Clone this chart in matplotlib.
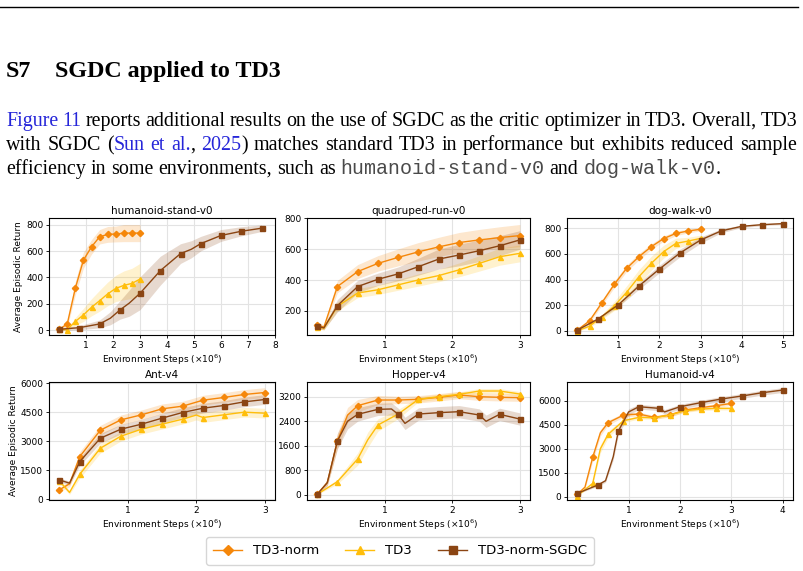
import numpy as np
import matplotlib
matplotlib.use("Agg")
import matplotlib.pyplot as plt
from matplotlib.lines import Line2D

# colours of the three methods
c_norm = '#F5870A'
c_td3 = '#FFBE0B'
c_sgdc = '#8B4513'

# ---------------- data (x in millions of env steps) ----------------
# humanoid-stand-v0
hs_x_norm = [0, 0.3, 0.6, 0.9, 1.2, 1.5, 1.8, 2.1, 2.4, 2.7, 3.0]
hs_norm = [5, 45, 318, 532, 633, 710, 728, 731, 738, 738, 738]
hs_norm_sd = [10, 25, 50, 60, 55, 55, 60, 60, 65, 65, 65]
hs_x_td3 = [0, 0.3, 0.6, 0.9, 1.2, 1.5, 1.8, 2.1, 2.4, 2.7, 3.0]
hs_td3 = [5, 3, 65, 115, 173, 223, 275, 317, 340, 355, 388]
hs_td3_sd = [5, 10, 30, 50, 65, 80, 90, 100, 110, 115, 120]
hs_x_sgdc = [0, 0.75, 1.5, 1.9, 2.25, 2.6, 3.0, 3.75, 4.5, 4.9, 5.25, 6.0, 6.75, 7.5]
hs_sgdc = [5, 18, 46, 90, 152, 205, 280, 452, 582, 615, 658, 720, 752, 775]
hs_sgdc_sd = [10, 15, 30, 50, 70, 100, 125, 110, 75, 65, 55, 45, 35, 25]

# quadruped-run-v0
qr_x = [0, 0.1, 0.3, 0.6, 0.9, 1.2, 1.5, 1.8, 2.1, 2.4, 2.7, 3.0]
qr_norm = [108, 95, 358, 455, 508, 547, 583, 615, 643, 660, 675, 688]
qr_norm_sd = [20, 15, 40, 45, 50, 55, 60, 62, 65, 68, 70, 72]
qr_td3 = [97, 88, 230, 316, 337, 369, 401, 429, 466, 508, 551, 573]
qr_td3_sd = [15, 12, 30, 30, 30, 35, 40, 40, 45, 50, 55, 55]
qr_sgdc = [101, 90, 234, 358, 405, 440, 487, 536, 562, 590, 622, 660]
qr_sgdc_sd = [15, 12, 40, 40, 40, 45, 55, 65, 70, 70, 65, 60]

# dog-walk-v0
dw_x3 = [0, 0.3, 0.6, 0.9, 1.2, 1.5, 1.8, 2.1, 2.4, 2.7, 3.0]
dw_norm = [5, 78, 219, 362, 487, 578, 656, 719, 760, 779, 792]
dw_norm_sd = [8, 15, 20, 25, 25, 25, 22, 20, 18, 15, 12]
dw_td3 = [0, 36, 109, 193, 300, 422, 526, 617, 682, 700, 721]
dw_td3_sd = [5, 10, 20, 35, 50, 55, 55, 50, 40, 30, 25]
dw_x5 = [0, 0.5, 1.0, 1.5, 2.0, 2.5, 3.0, 3.5, 4.0, 4.5, 5.0]
dw_sgdc = [5, 91, 203, 349, 482, 607, 708, 779, 815, 828, 836]
dw_sgdc_sd = [5, 10, 15, 25, 30, 30, 25, 15, 10, 8, 8]

# Ant-v4
ant_x = [0, 0.15, 0.3, 0.6, 0.9, 1.2, 1.5, 1.8, 2.1, 2.4, 2.7, 3.0]
ant_norm = [483, 800, 2207, 3569, 4103, 4362, 4672, 4810, 5121, 5259, 5414, 5517]
ant_norm_sd = [100, 150, 250, 250, 250, 250, 250, 250, 250, 250, 250, 250]
ant_x_td3 = [0, 0.15, 0.3, 0.6, 0.9, 1.2, 1.5, 1.8, 2.0, 2.1, 2.4, 2.7, 3.0]
ant_td3 = [950, 350, 1293, 2638, 3259, 3621, 3879, 4138, 4350, 4224, 4362, 4500, 4448]
ant_td3_sd = [100, 100, 200, 250, 250, 250, 250, 250, 250, 250, 250, 250, 250]
ant_sgdc = [1000, 830, 1948, 3155, 3621, 3879, 4190, 4483, 4707, 4845, 5034, 5155]
ant_sgdc_sd = [100, 100, 200, 250, 250, 250, 250, 250, 250, 250, 250, 250]

# Hopper-v4
hop_x_norm = [0, 0.15, 0.3, 0.45, 0.6, 0.9, 1.2, 1.5, 1.8, 2.1, 2.4, 2.7, 3.0]
hop_norm = [22, 400, 1757, 2600, 2907, 3092, 3092, 3114, 3180, 3254, 3200, 3180, 3168]
hop_norm_sd = [10, 100, 250, 250, 200, 150, 120, 120, 120, 120, 120, 120, 120]
hop_x_td3 = [0, 0.3, 0.6, 0.75, 0.9, 1.2, 1.5, 1.8, 2.1, 2.4, 2.7, 3.0]
hop_td3 = [22, 434, 1171, 1800, 2278, 2636, 3114, 3200, 3276, 3385, 3385, 3287]
hop_td3_sd = [10, 80, 200, 250, 200, 150, 80, 80, 80, 80, 80, 80]
hop_x_sgdc = [0, 0.15, 0.3, 0.45, 0.6, 0.9, 1.1, 1.2, 1.3, 1.5, 1.8, 2.1, 2.4, 2.5, 2.7, 3.0]
hop_sgdc = [22, 400, 1757, 2400, 2625, 2788, 2800, 2625, 2330, 2636, 2680, 2712, 2603, 2400, 2625, 2473]
hop_sgdc_sd = [10, 100, 250, 250, 220, 200, 200, 200, 200, 200, 200, 200, 200, 200, 200, 200]

# Humanoid-v4
hum_x_norm = [0, 0.15, 0.3, 0.45, 0.6, 0.9, 1.2, 1.5, 1.8, 2.1, 2.4, 2.7, 3.0]
hum_norm = [146, 600, 2458, 4000, 4625, 5104, 5167, 4958, 5104, 5417, 5563, 5688, 5833]
hum_norm_sd = [30, 100, 250, 200, 150, 120, 120, 120, 120, 120, 120, 120, 120]
hum_x_td3 = [0, 0.3, 0.45, 0.6, 0.9, 1.2, 1.5, 1.8, 2.1, 2.4, 2.7, 3.0]
hum_td3 = [62, 833, 3000, 3896, 4750, 4958, 4938, 5104, 5375, 5479, 5521, 5521]
hum_td3_sd = [30, 100, 250, 200, 120, 100, 100, 100, 100, 100, 100, 100]
hum_x_sgdc = [0, 0.4, 0.55, 0.7, 0.8, 1.0, 1.2, 1.6, 1.7, 2.0, 2.4, 2.8, 3.2, 3.6, 4.0]
hum_sgdc = [208, 729, 1000, 2500, 4104, 5300, 5625, 5521, 5300, 5625, 5875, 6104, 6292, 6500, 6667]
hum_sgdc_sd = [30, 80, 100, 200, 250, 200, 150, 150, 150, 150, 150, 150, 150, 150, 150]

envs = [
    ('humanoid-stand-v0', [(hs_x_norm, hs_norm, hs_norm_sd), (hs_x_td3, hs_td3, hs_td3_sd), (hs_x_sgdc, hs_sgdc, hs_sgdc_sd)],
     [1, 2, 3, 4, 5, 6, 7, 8], [0, 200, 400, 600, 800], (-0.375, 8.0), (-38, 853)),
    ('quadruped-run-v0', [(qr_x, qr_norm, qr_norm_sd), (qr_x, qr_td3, qr_td3_sd), (qr_x, qr_sgdc, qr_sgdc_sd)],
     [1, 2, 3], [200, 400, 600, 800], (-0.15, 3.15), (44, 802)),
    ('dog-walk-v0', [(dw_x3, dw_norm, dw_norm_sd), (dw_x3, dw_td3, dw_td3_sd), (dw_x5, dw_sgdc, dw_sgdc_sd)],
     [1, 2, 3, 4, 5], [0, 200, 400, 600, 800], (-0.25, 5.25), (-33, 880)),
    ('Ant-v4', [(ant_x, ant_norm, ant_norm_sd), (ant_x_td3, ant_td3, ant_td3_sd), (ant_x, ant_sgdc, ant_sgdc_sd)],
     [1, 2, 3], [0, 1500, 3000, 4500, 6000], (-0.15, 3.15), (-40, 6060)),
    ('Hopper-v4', [(hop_x_norm, hop_norm, hop_norm_sd), (hop_x_td3, hop_td3, hop_td3_sd), (hop_x_sgdc, hop_sgdc, hop_sgdc_sd)],
     [1, 2, 3], [0, 800, 1600, 2400, 3200], (-0.15, 3.15), (-163, 3678)),
    ('Humanoid-v4', [(hum_x_norm, hum_norm, hum_norm_sd), (hum_x_td3, hum_td3, hum_td3_sd), (hum_x_sgdc, hum_sgdc, hum_sgdc_sd)],
     [1, 2, 3, 4], [0, 1500, 3000, 4500, 6000], (-0.2, 4.2), (-206, 7170)),
]

labels = ['TD3-norm', 'TD3', 'TD3-norm-SGDC']
colors = [c_norm, c_td3, c_sgdc]
markers = ['D', '^', 's']

W, H = 804, 571
fig = plt.figure(figsize=(W / 100, H / 100), dpi=100)


def fx(px):
    return px / W


def fy(py):
    return 1 - py / H


# ---------------- page text ----------------
fig.add_artist(Line2D([fx(0), fx(798)], [fy(7), fy(7)], color='black', lw=1.0))
serif = 'Liberation Serif'
mono = 'Liberation Mono'
blue = '#2626d9'
fig.text(fx(6), fy(77), 'S7', fontsize=17.3, fontweight='bold', family=serif)
fig.text(fx(55), fy(77), 'SGDC applied to TD3', fontsize=17.3, fontweight='bold', family=serif)

body_size = 14.4
K = 'black'
G = '#4a4a4a'
line1 = [[('Figure', blue, serif)], [('11', blue, serif)], 'reports', 'additional', 'results', 'on', 'the', 'use',
         'of', 'SGDC', 'as', 'the', 'critic', 'optimizer', 'in', 'TD3.', 'Overall,', 'TD3']
line2 = ['with', 'SGDC', [('(', K, serif), ('Sun', blue, serif)], [('et', blue, serif)],
         [('al.', blue, serif), (',', K, serif)], [('2025', blue, serif), (')', K, serif)],
         'matches', 'standard', 'TD3', 'in', 'performance', 'but', 'exhibits', 'reduced', 'sample']
line3 = ['efficiency', 'in', 'some', 'environments,', 'such', 'as', [('humanoid-stand-v0', G, mono)], 'and',
         [('dog-walk-v0', G, mono), ('.', K, serif)]]

renderer = fig.canvas.get_renderer()


def put_line(y, words, x0, x1, justify):
    words = [w if isinstance(w, list) else [(w, K, serif)] for w in words]
    arts = []
    widths = []
    for w in words:
        parts = []
        tot = 0
        for s, c, f in w:
            t = fig.text(0, fy(y), s, fontsize=body_size, color=c, family=f)
            wd = t.get_window_extent(renderer).width
            parts.append((t, wd))
            tot += wd
        arts.append(parts)
        widths.append(tot)
    if justify:
        gap = (x1 - x0 - sum(widths)) / (len(words) - 1)
    else:
        gap = 5.0
    x = x0
    for parts, wd in zip(arts, widths):
        xx = x
        for t, pw in parts:
            t.set_x(fx(xx))
            xx += pw
        x += wd + gap


put_line(126, line1, 6, 797, True)
put_line(150, line2, 6, 797, True)
put_line(174, line3, 6, 797, False)

# ---------------- panels ----------------
lefts = [49, 307, 567]
rights = [275, 530, 793]
tops = [218, 382]
bottoms = [335, 500]

for i, (name, series, xt, yt, xl, yl) in enumerate(envs):
    r, c = divmod(i, 3)
    ax = fig.add_axes([fx(lefts[c]), fy(bottoms[r]), fx(rights[c] - lefts[c]), (bottoms[r] - tops[r]) / H])
    for (x, m, sd), col, mk, lab in zip(series, colors, markers, labels):
        x = np.array(x, dtype=float)
        m = np.array(m, dtype=float)
        sd = np.array(sd, dtype=float)
        ax.fill_between(x, m - sd, m + sd, color=col, alpha=0.2, lw=0)
        ax.plot(x, m, color=col, lw=1.0)
        step = x.max() / 10
        on = np.isclose(x / step, np.round(x / step))
        ax.plot(x[on], m[on], ls='none', marker=mk, color=col, ms=3.6 if mk != 'D' else 3.2)
    ax.set_xlim(*xl)
    ax.set_ylim(*yl)
    ax.set_xticks(xt)
    ax.set_yticks(yt)
    ax.grid(True, color='#e3e3e3', lw=0.8)
    ax.set_axisbelow(True)
    ax.tick_params(labelsize=6.5, length=2.5, width=0.6, pad=1.5)
    for sp in ax.spines.values():
        sp.set_linewidth(0.8)
    ax.set_title(name, fontsize=7.5, pad=3)
    ax.set_xlabel(r'Environment Steps ($\times 10^6$)', fontsize=6.5, labelpad=2)
    if c == 0:
        ax.set_ylabel('Average Episodic Return', fontsize=6.5, labelpad=2)

handles = [Line2D([], [], color=col, marker=mk, lw=1.0, ms=6 if mk != 'D' else 5.5)
           for col, mk in zip(colors, markers)]
fig.legend(handles, labels, loc='center', bbox_to_anchor=(fx(400), fy(551)), ncol=3, fontsize=9.5,
           frameon=True, edgecolor='#cccccc', handlelength=2.2, columnspacing=2.0, borderpad=0.55)

fig.savefig('out.png', dpi=100)
